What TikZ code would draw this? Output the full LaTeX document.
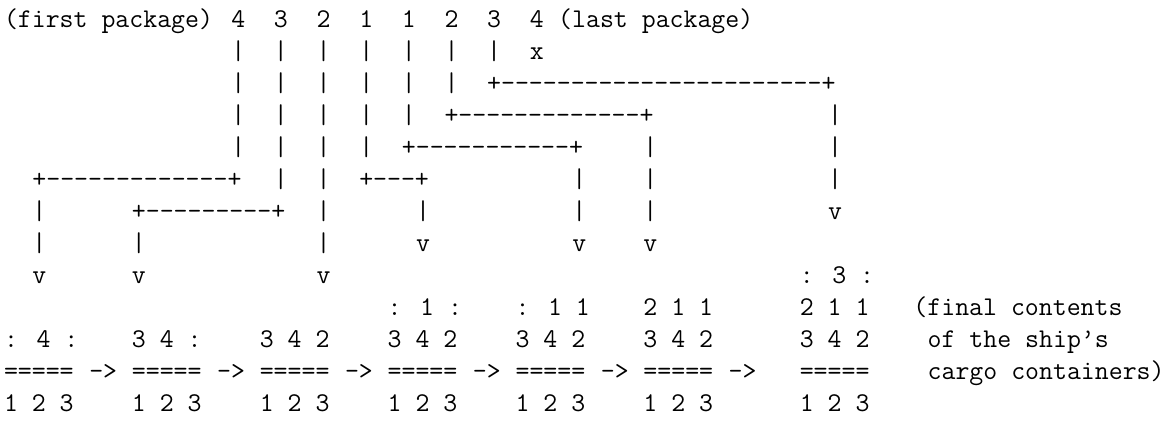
\documentclass[tikz,border=0pt]{standalone}
\usepackage{fontspec}
\newcommand\dashes[1]{\foreach\i in {1,...,#1}{-\kern0pt}}
\tikzset{
  tt/.style={font=\fontsize{13.53pt}{16pt}\selectfont\ttfamily, inner sep=0pt, outer sep=0pt, anchor=base west}
}
\begin{document}
\begin{tikzpicture}
\useasboundingbox (0,0) rectangle (585.5pt,-211.5pt);
\begin{scope}[x=7.105pt,y=-16pt,shift={(2pt,-13.5pt)}]
% row 0
\node[tt] (first) at (0,0) {(first package)};
\foreach \c/\t in {16/4,19/3,22/2,25/1,28/1,31/2,34/3,37/4}
  \node[tt] (pk\c) at (\c,0) {\t};
\node[tt] (last) at (39,0) {(last package)};
% row 1
\foreach \c in {16,19,22,25,28,31,34} \node[tt] (a\c) at (\c,1) {|};
\node[tt] (reject) at (37,1) {x};
% row 2
\foreach \c in {16,19,22,25,28,31} \node[tt] (b\c) at (\c,2) {|};
\node[tt] (h34) at (34,2) {+\dashes{23}+};
% row 3
\foreach \c in {16,19,22,25,28} \node[tt] (c\c) at (\c,3) {|};
\node[tt] (h31) at (31,3) {+\dashes{13}+};
\node[tt] (c58) at (58,3) {|};
% row 4
\foreach \c in {16,19,22,25} \node[tt] (d\c) at (\c,4) {|};
\node[tt] (h28) at (28,4) {+\dashes{11}+};
\foreach \c in {45,58} \node[tt] (d\c) at (\c,4) {|};
% row 5
\node[tt] (h16) at (2,5) {+\dashes{13}+};
\foreach \c in {19,22} \node[tt] (e\c) at (\c,5) {|};
\node[tt] (h25) at (25,5) {+\dashes{3}+};
\foreach \c in {40,45,58} \node[tt] (e\c) at (\c,5) {|};
% row 6
\node[tt] (f2) at (2,6) {|};
\node[tt] (h19) at (9,6) {+\dashes{9}+};
\foreach \c in {22,29,40,45} \node[tt] (f\c) at (\c,6) {|};
\node[tt] (f58) at (58,6) {v};
% row 7
\foreach \c in {2,9,22} \node[tt] (g\c) at (\c,7) {|};
\foreach \c in {29,40,45} \node[tt] (g\c) at (\c,7) {v};
% row 8
\foreach \c in {2,9,22} \node[tt] (k\c) at (\c,8) {v};
\node[tt] (s7top) at (56,8) {: 3 :};
% row 9
\node[tt] (s4top) at (27,9) {: 1 :};
\node[tt] (s5top) at (36,9) {: 1 1};
\node[tt] (s6top) at (45,9) {2 1 1};
\node[tt] (s7mid) at (56,9) {2 1 1};
\node[tt] (note1) at (64,9) {(final contents};
% row 10
\node[tt] (s1) at (0,10) {: 4 :};
\node[tt] (s2) at (9,10) {3 4 :};
\foreach \c in {18,27,36,45,56} \node[tt] (m\c) at (\c,10) {3 4 2};
\node[tt] (note2) at (65,10) {of the ship’s};
% row 11
\foreach \c in {0,9,18,27,36,45,56} \node[tt] (ship\c) at (\c,11) {=====};
\foreach \c in {6,15,24,33,42,51} \node[tt] (arr\c) at (\c,11) {->};
\node[tt] (note3) at (65,11) {cargo containers)};
% row 12
\foreach \c in {0,9,18,27,36,45,56} \node[tt] (num\c) at (\c,12) {1 2 3};
\end{scope}
\end{tikzpicture}
\end{document}
